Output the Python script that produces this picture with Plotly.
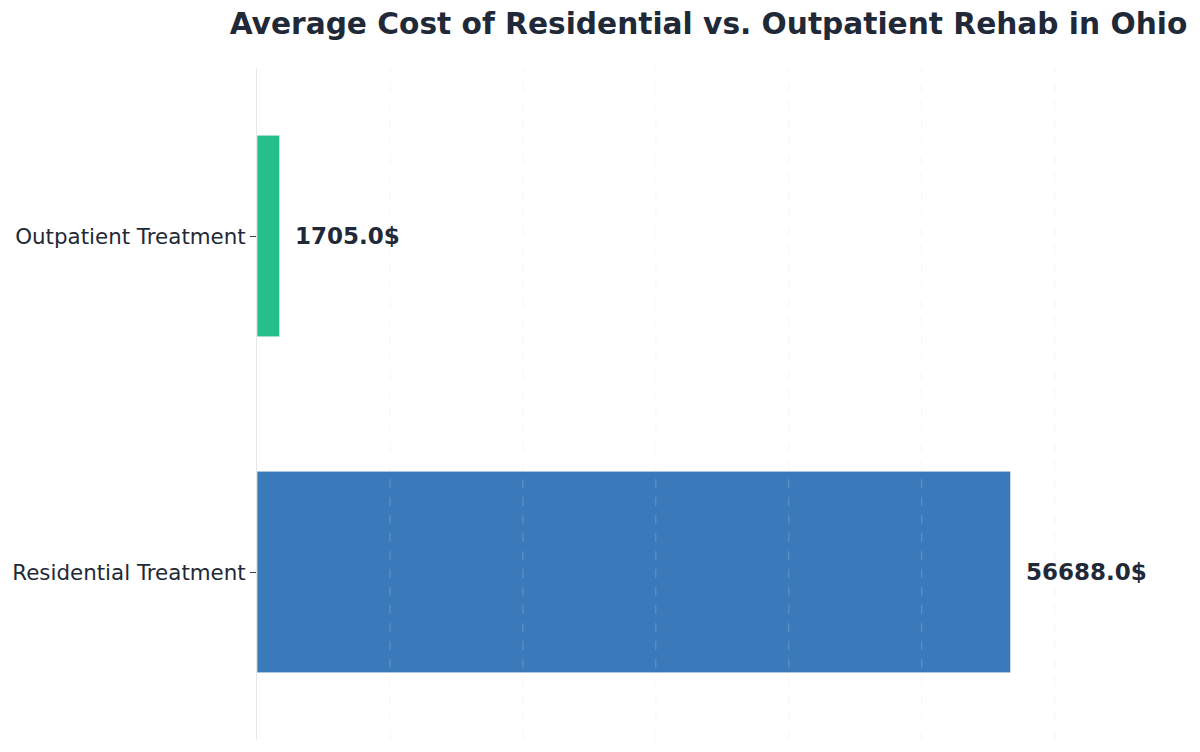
import plotly.graph_objects as go

categories = ["Residential Treatment", "Outpatient Treatment"]
costs = [56688.0, 1705.0]
colors = ["#3a7aba", "#26bf8c"]
labels = [f"{v:.1f}$" for v in costs]
grid_ticks = [10000, 20000, 30000, 40000, 50000, 60000]

fig = go.Figure()
fig.add_trace(go.Bar(
    y=categories, x=costs, orientation="h", width=0.6,
    marker=dict(color=colors, line=dict(color="rgba(255,255,255,0.6)", width=1)),
    hoverinfo="skip", showlegend=False,
))
for c, v, t in zip(categories, costs, labels):
    fig.add_annotation(x=v, y=c, text=f"<b>{t}</b>", showarrow=False,
                       xanchor="left", xshift=13,
                       font=dict(family="DejaVu Sans", size=23, color="#1f2937"))
for g in grid_ticks:
    fig.add_shape(type="line", xref="x", yref="paper", x0=g, x1=g, y0=0, y1=1,
                  layer="above",
                  line=dict(color="rgba(215,222,232,0.28)", width=1, dash="dash"))

fig.update_layout(
    width=1200, height=752,
    margin=dict(l=257, r=39, t=68, b=12),
    paper_bgcolor="white", plot_bgcolor="white",
    title=dict(text="<b>Average Cost of Residential vs. Outpatient Rehab in Ohio</b>",
               x=708.5/1200, xanchor="center", y=1-24/752, yanchor="middle",
               font=dict(family="DejaVu Sans", size=29.65, color="#1f2937")),
    font=dict(family="DejaVu Sans", color="#1f2937"),
    xaxis=dict(range=[0, 68000], showticklabels=False, ticks="",
               showgrid=False, zeroline=False, showline=False),
    yaxis=dict(categoryorder="array", categoryarray=categories,
               range=[-0.5, 1.5], showgrid=False, zeroline=False,
               showline=True, linecolor="#e5e7eb", linewidth=1,
               ticks="outside", ticklen=6, tickcolor="#374151", tickwidth=1,
               tickfont=dict(family="DejaVu Sans", size=21.4, color="#1f2937"),
               ticklabelstandoff=0),
    bargap=0.4,
)
fig.write_html("out.html")
